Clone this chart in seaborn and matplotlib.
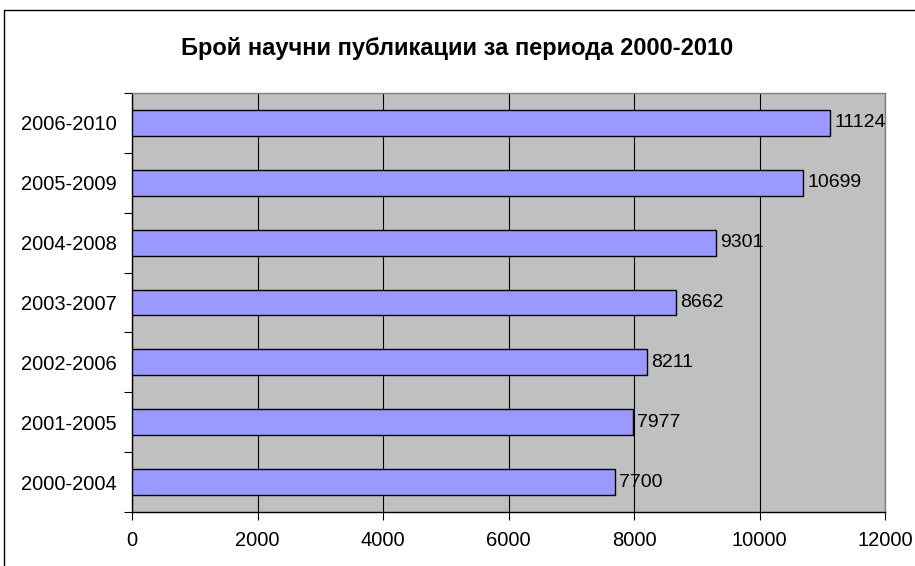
import matplotlib
matplotlib.use('Agg')
import matplotlib.pyplot as plt
from matplotlib.lines import Line2D
import seaborn as sns
import pandas as pd
import numpy as np

# data (top to bottom)
periods = ['2006-2010', '2005-2009', '2004-2008', '2003-2007',
           '2002-2006', '2001-2005', '2000-2004']
publications = [11124, 10699, 9301, 8662, 8211, 7977, 7700]
x_ticks = [0, 2000, 4000, 6000, 8000, 10000, 12000]
title = 'Брой научни публикации за периода 2000-2010'

df = pd.DataFrame({'period': periods, 'count': publications})

sns.set_style('white')
plt.rcParams['font.family'] = ['Liberation Sans', 'DejaVu Sans']
plt.rcParams['text.color'] = 'black'
plt.rcParams['xtick.color'] = 'black'
plt.rcParams['ytick.color'] = 'black'
plt.rcParams['xtick.labelcolor'] = 'black'
plt.rcParams['ytick.labelcolor'] = 'black'

fig = plt.figure(figsize=(9.15, 5.66), dpi=100)
ax = fig.add_axes([0.1443, 0.0954, 0.8230, 0.7403])
ax.set_facecolor('#C0C0C0')

sns.barplot(data=df, x='count', y='period', order=periods, orient='h',
            color='#9999FF', edgecolor='black', linewidth=1.0,
            width=0.43, saturation=1, ax=ax, zorder=3)

ax.bar_label(ax.containers[0], labels=[str(v) for v in publications],
             padding=3, fontsize=14, color='black', zorder=4)

ax.set_xlim(0, 12000)
ax.set_ylim(len(periods) - 0.5, -0.5)
ax.set_xticks(x_ticks)
ax.set_xticklabels([str(t) for t in x_ticks], fontsize=14.5)
ax.xaxis.grid(True, color='black', linewidth=0.8, zorder=1)
ax.set_axisbelow(True)
ax.set_xlabel('')
ax.set_ylabel('')

# tick marks between categories, labels centred on bars
ax.set_yticks(np.arange(len(periods) + 1) - 0.5, minor=True)
ax.tick_params(axis='y', which='major', length=0, pad=11, labelsize=14.5,
               labelcolor='black')
ax.tick_params(axis='y', which='minor', length=6, width=0.8, color='black',
               direction='out', left=True)
ax.tick_params(axis='x', which='major', length=6, width=0.8, color='black',
               direction='out', bottom=True, pad=8, labelcolor='black')

for side in ['left', 'bottom']:
    ax.spines[side].set_color('black')
    ax.spines[side].set_linewidth(1.0)
for side in ['top', 'right']:
    ax.spines[side].set_color('#808080')
    ax.spines[side].set_linewidth(1.0)

fig.text(0.5, 1 - 49 / 566, title, ha='center', va='center',
         fontsize=17, fontweight='bold', color='black')

# outer chart frame (runs off the right and bottom edges)
fig.add_artist(Line2D([4 / 915, 4 / 915], [0, 1 - 10 / 566],
                      color='black', linewidth=1.0, transform=fig.transFigure))
fig.add_artist(Line2D([4 / 915, 1], [1 - 10 / 566, 1 - 10 / 566],
                      color='black', linewidth=1.0, transform=fig.transFigure))

fig.savefig('out.png', dpi=100)
